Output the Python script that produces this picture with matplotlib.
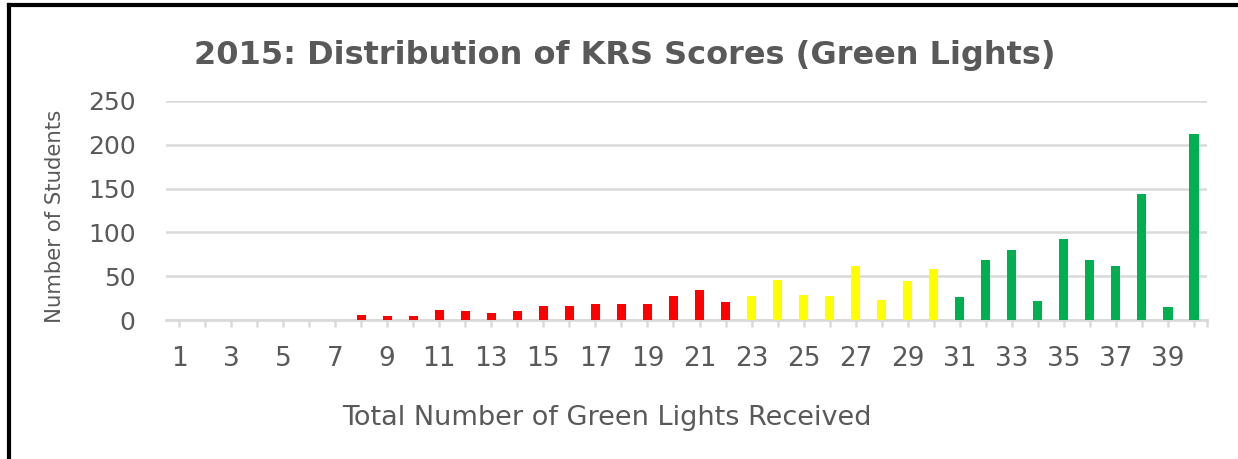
import matplotlib
matplotlib.use("Agg")
import matplotlib.pyplot as plt
from matplotlib.lines import Line2D

categories = list(range(1, 41))
students = [0, 0, 0, 0, 0, 0, 0, 6, 4, 4,
            11, 10, 8, 10, 16, 16, 18, 18, 18, 27,
            34, 21, 27, 46, 29, 27, 62, 23, 44, 58,
            26, 69, 80, 22, 93, 69, 62, 144, 15, 212]
red_max = 22
yellow_max = 30
colors = ["#FF0000" if c <= red_max else ("#FFFF00" if c <= yellow_max else "#00B050")
          for c in categories]
yticks = [0, 50, 100, 150, 200, 250]
xtick_labels = [str(c) if c % 2 == 1 else "" for c in categories]

title = "2015: Distribution of KRS Scores (Green Lights)"
xlabel = "Total Number of Green Lights Received"
ylabel = "Number of Students"

txt = "#595959"
grid = "#D9D9D9"
plt.rcParams['font.family'] = ['DejaVu Sans']

fig = plt.figure(figsize=(12.38, 4.59), dpi=100)
ax = fig.add_axes([166/1238, 139/459, (1207-166)/1238, 219/459])

ax.bar(categories, students, width=0.35, color=colors, zorder=3)
ax.set_xlim(0.5, 40.5)
ax.set_ylim(0, 250)
ax.set_yticks(yticks)
ax.yaxis.grid(True, color=grid, linewidth=1.8, zorder=0)
ax.set_axisbelow(True)
for s in ["top", "right", "left"]:
    ax.spines[s].set_visible(False)
ax.spines["bottom"].set_color(grid)
ax.spines["bottom"].set_linewidth(2)
ax.set_xticks(categories)
ax.set_xticklabels(xtick_labels)
ax.set_xticks([len(categories) + 0.5], minor=True)
ax.tick_params(axis="x", which="both", length=5, width=1.8, color=grid)
ax.tick_params(axis="x", which="major", labelsize=19, labelcolor=txt, pad=14)
ax.tick_params(axis="y", length=0, labelsize=18, labelcolor=txt, pad=22)

fig.text(0.505, 0.880, title, ha="center", va="center", fontsize=23,
         fontweight="bold", color=txt)
fig.text(607/1238, 1 - 418/459, xlabel, ha="center", va="center",
         fontsize=19.5, color=txt)
fig.text(55/1238, 1 - 216/459, ylabel, ha="center", va="center",
         fontsize=15.3, color=txt, rotation=90)

# frame lines (left and top)
fig.add_artist(Line2D([9/1238, 9/1238], [0, 1 - 5/459], transform=fig.transFigure,
                      color="black", linewidth=3))
fig.add_artist(Line2D([9/1238, 1], [1 - 5/459, 1 - 5/459], transform=fig.transFigure,
                      color="black", linewidth=3))

fig.savefig("out.png", dpi=100)
